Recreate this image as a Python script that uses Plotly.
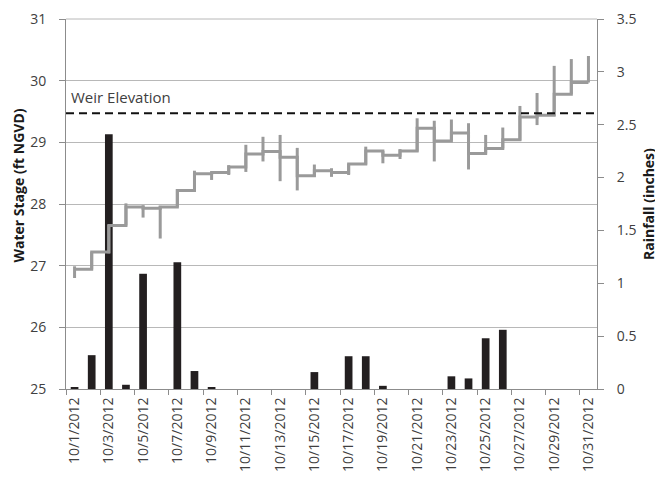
import plotly.graph_objects as go

dates = ["10/1/2012", "10/2/2012", "10/3/2012", "10/4/2012", "10/5/2012", "10/6/2012",
         "10/7/2012", "10/8/2012", "10/9/2012", "10/10/2012", "10/11/2012", "10/12/2012",
         "10/13/2012", "10/14/2012", "10/15/2012", "10/16/2012", "10/17/2012", "10/18/2012",
         "10/19/2012", "10/20/2012", "10/21/2012", "10/22/2012", "10/23/2012", "10/24/2012",
         "10/25/2012", "10/26/2012", "10/27/2012", "10/28/2012", "10/29/2012", "10/30/2012",
         "10/31/2012"]

rainfall = [0.01, 0.32, 2.41, 0.04, 1.09, 0.0, 1.20, 0.17, 0.01, 0.0, 0.0, 0.0, 0.0, 0.0,
            0.16, 0.0, 0.31, 0.31, 0.03, 0.0, 0.0, 0.0, 0.12, 0.10, 0.48, 0.56, 0.0, 0.0,
            0.0, 0.0, 0.0]

stage_step = [26.94, 27.22, 27.65, 27.95, 27.93, 27.95, 28.22, 28.49, 28.51, 28.60, 28.81,
              28.85, 28.76, 28.46, 28.54, 28.51, 28.65, 28.86, 28.79, 28.86, 29.23, 29.02,
              29.15, 28.82, 28.90, 29.04, 29.41, 29.44, 29.78, 29.97, 29.97]

stage_low = [26.80, 26.94, 27.20, 27.65, 27.78, 27.44, 27.95, 28.22, 28.39, 28.47, 28.52,
             28.69, 28.37, 28.22, 28.44, 28.44, 28.47, 28.64, 28.66, 28.73, 28.85, 28.69,
             29.03, 28.56, 28.82, 28.90, 29.03, 29.28, 29.43, 29.78, 29.97]

stage_high = [26.99, 27.22, 27.66, 28.01, 27.98, 27.97, 28.24, 28.54, 28.52, 28.63, 28.96,
              29.09, 29.12, 28.91, 28.64, 28.58, 28.65, 28.93, 28.86, 28.89, 29.39, 29.35,
              29.37, 29.31, 29.12, 29.24, 29.59, 29.80, 30.24, 30.35, 30.40]

weir_elevation = 29.47

FONT = "Open Sans"
GRAY_LINE = "#9a9a9a"
AXIS = "#8c8c8c"
GRID = "#b8b8b8"

# page body has an 8px margin; the figure is sized so that the plot area lands at
# (66, 19)-(597, 389) in the 663x481 window
PAGE_OFF = 8
FIG_W, FIG_H = 663 - PAGE_OFF, 481 - PAGE_OFF
PLOT_W, PLOT_H = 531, 370

fig = go.Figure()

fig.add_trace(go.Bar(x=dates, y=rainfall, yaxis="y", width=0.45,
                     marker=dict(color="#231f20", line=dict(width=0)), name="Rainfall"))

vx, vy = [], []
for d, lo, hi in zip(dates, stage_low, stage_high):
    vx += [d, d, None]
    vy += [lo, hi, None]
fig.add_trace(go.Scatter(x=vx, y=vy, yaxis="y2", mode="lines",
                         line=dict(color=GRAY_LINE, width=3), name="Range"))

fig.add_trace(go.Scatter(x=dates, y=stage_step, yaxis="y2", mode="lines",
                         line=dict(color=GRAY_LINE, width=3, shape="hv"), name="Stage"))

fig.add_shape(type="line", xref="paper", x0=0, x1=1, yref="paper", y0=1, y1=1,
              layer="below", line=dict(color=GRID, width=1))

fig.add_shape(type="line", xref="paper", x0=0, x1=1, yref="y2", y0=weir_elevation,
              y1=weir_elevation, line=dict(color="#111111", width=2, dash="8px,5px"))

fig.add_annotation(text="Weir Elevation", xref="paper", x=0, xshift=3, xanchor="left",
                   yref="y2", y=29.735, yanchor="middle", showarrow=False,
                   font=dict(family=FONT, size=15, color="#404040"))

fig.add_annotation(text="<b>Water Stage (ft NGVD)</b>", xref="paper", x=(18 - 66) / PLOT_W,
                   xanchor="center", yref="paper", y=0.55, yanchor="middle",
                   textangle=-90, showarrow=False,
                   font=dict(family=FONT, size=14, color="#1a1a1a"))
fig.add_annotation(text="<b>Rainfall (inches)</b>", xref="paper", x=(648 - 66) / PLOT_W,
                   xanchor="center", yref="paper", y=0.5, yanchor="middle",
                   textangle=-90, showarrow=False,
                   font=dict(family=FONT, size=14, color="#1a1a1a"))

fig.update_layout(
    width=FIG_W, height=FIG_H,
    margin=dict(l=66 - PAGE_OFF, r=FIG_W - (66 - PAGE_OFF) - PLOT_W,
                t=19 - PAGE_OFF, b=FIG_H - (19 - PAGE_OFF) - PLOT_H, autoexpand=False),
    paper_bgcolor="white", plot_bgcolor="white",
    showlegend=False,
    font=dict(family=FONT, size=14, color="#404040"),
    xaxis=dict(type="category", categoryorder="array", categoryarray=dates,
               range=[-0.5, 30.5], tickmode="linear", tick0=0, dtick=2,
               tickson="boundaries", ticks="outside", ticklen=5, tickcolor=AXIS,
               showline=True, linecolor=AXIS, linewidth=1, showgrid=False,
               automargin=False, ticklabelstandoff=2,
               tickangle=-90, tickfont=dict(family=FONT, size=14, color="#404040")),
    yaxis=dict(side="right", range=[0, 3.5], tickmode="linear", tick0=0, dtick=0.5,
               ticks="outside", ticklen=6, tickcolor=AXIS, showline=True,
               linecolor=AXIS, linewidth=1, showgrid=False, zeroline=False,
               automargin=False, ticklabelstandoff=10,
               tickfont=dict(family=FONT, size=14, color="#404040")),
    yaxis2=dict(side="left", overlaying="y", range=[25, 31], tickmode="linear",
                tick0=25, dtick=1, ticks="outside", ticklen=6, tickcolor=AXIS,
                showline=True, linecolor=AXIS, linewidth=1, showgrid=True,
                gridcolor=GRID, gridwidth=1, zeroline=False,
                automargin=False, ticklabelstandoff=10,
                tickfont=dict(family=FONT, size=14, color="#404040")),
)

fig.write_html("out.html")
